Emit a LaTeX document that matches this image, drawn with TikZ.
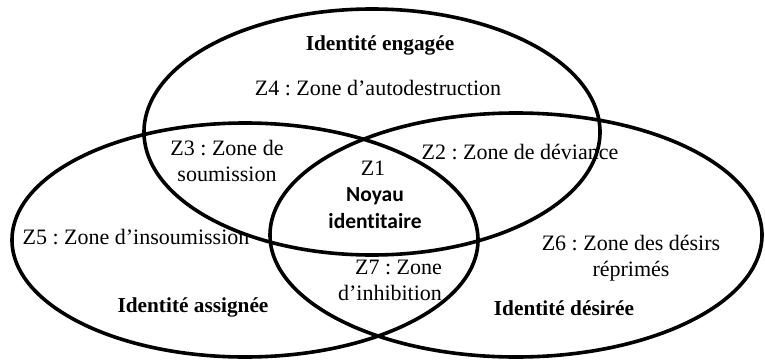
\documentclass[tikz,border=0pt]{standalone}
\usepackage{fontspec}
\setmainfont{Liberation Serif}
\newfontfamily\calibri[Ligatures={NoCommon,NoContextual}]{Carlito}
\frenchspacing
\usetikzlibrary{shapes.geometric}
\tikzset{
    zone/.style={draw, ellipse, line width=3.6pt, inner sep=0pt},
    lbl/.style={font=\fontsize{22}{26}\selectfont, align=center, inner sep=0pt},
    titre/.style={font=\fontsize{21.3}{24}\selectfont\bfseries, inner sep=0pt},
    noyau/.style={font=\fontsize{21.5}{27}\selectfont\calibri\bfseries, align=center, inner sep=0pt}
}

\begin{document}
\begin{tikzpicture}[x=1pt,y=-1pt]
    \useasboundingbox (0,0) rectangle (765,361);

    % zones
    \node[lbl] (z4) at (378,88) {Z4 : Zone d’autodestruction};
    \node[lbl] (z3) at (227,161) {Z3 : Zone de\\soumission};
    \node[lbl] (z1) at (373,168) {Z1};
    \node[noyau] (noyau) at (375,208) {Noyau\\identitaire};
    \node[lbl] (z2) at (520,152) {Z2 : Zone de déviance};
    \node[lbl] (z5) at (136,237) {Z5 : Zone d’insoumission};
    \node[lbl, align=right] (z7) at (390,280) {Z7 : Zone\\d’inhibition};
    \node[lbl] (z6) at (631,258) {Z6 : Zone des désirs\\réprimés};

    % identites
    \node[titre] (t-eng) at (380,45) {Identité engagée};
    \node[titre] (t-ass) at (193,307) {Identité assignée};
    \node[titre] (t-des) at (564,308) {Identité désirée};

    \node[zone, minimum width=456pt, minimum height=246pt] (engagee) at (372,132) {};
    \node[zone, minimum width=466pt, minimum height=234pt] (assignee) at (245,240) {};
    \node[zone, minimum width=492pt, minimum height=244pt] (desiree) at (516,235) {};
\end{tikzpicture}
\end{document}
